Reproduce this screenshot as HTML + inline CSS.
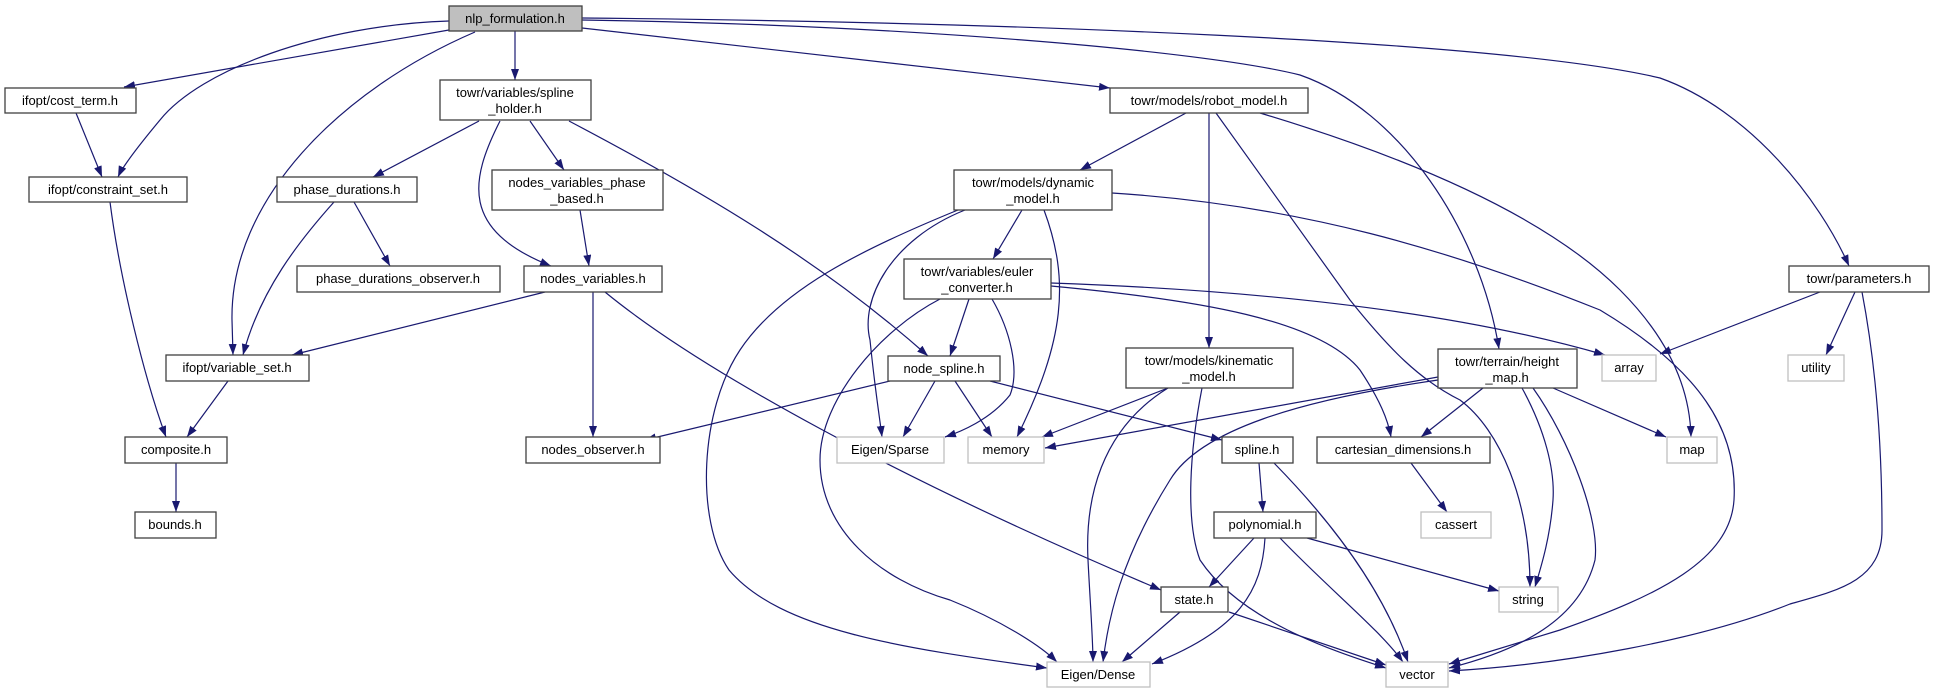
<!DOCTYPE html>
<html><head><meta charset="utf-8"><style>
html,body{margin:0;padding:0;background:#fff;}
svg{display:block;}
text{font-family:"Liberation Sans",sans-serif;font-size:13px;fill:#000;text-anchor:middle;}
.e{fill:none;stroke:#191970;stroke-width:1.2;marker-end:url(#a);}
.n{fill:#fff;stroke:#404040;stroke-width:1.3;}
.g{fill:#fff;stroke:#bfbfbf;stroke-width:1.3;}
</style></head><body>
<svg width="1934" height="693" viewBox="0 0 1934 693" xmlns="http://www.w3.org/2000/svg">
<defs><marker id="a" markerUnits="userSpaceOnUse" markerWidth="12" markerHeight="10" refX="11" refY="4" orient="auto"><path d="M0,0 L11,4 L0,8 z" fill="#191970"/></marker></defs>
<!-- edges -->
<path class="e" d="M449,30 L124,87"/>
<path class="e" d="M449,21 C320,25 200,70 160,120 C135,150 122,168 118,177"/>
<path class="e" d="M475,32 C340,90 230,200 232,320 L233,355"/>
<path class="e" d="M515,31 L515,80"/>
<path class="e" d="M582,28 L1110,88"/>
<path class="e" d="M582,20 C900,25 1200,50 1300,75 C1400,110 1480,230 1499,349"/>
<path class="e" d="M582,18 C1000,22 1500,40 1660,78 C1750,110 1820,200 1849,266"/>
<path class="e" d="M479,121 L373,177"/>
<path class="e" d="M530,121 L564,170"/>
<path class="e" d="M500,121 C470,180 460,230 551,266"/>
<path class="e" d="M569,121 C700,190 820,260 928,356"/>
<path class="e" d="M1186,113 L1080,170"/>
<path class="e" d="M1209,113 L1209,348"/>
<path class="e" d="M1216,113 L1350,300 C1390,350 1420,380 1460,400 C1500,430 1530,500 1530,587"/>
<path class="e" d="M1260,113 C1450,170 1560,230 1620,290 C1670,340 1690,390 1691,437"/>
<path class="e" d="M1820,292 L1660,354"/>
<path class="e" d="M1855,292 L1826,355"/>
<path class="e" d="M1862,292 C1875,360 1882,440 1882,530 C1882,580 1840,590 1790,604 C1700,640 1560,665 1449,671"/>
<path class="e" d="M354,202 L390,266"/>
<path class="e" d="M334,202 C300,240 260,290 243,355"/>
<path class="e" d="M545,292 L292,355"/>
<path class="e" d="M593,292 L593,437"/>
<path class="e" d="M605,292 C700,370 900,480 1161,590"/>
<path class="e" d="M580,210 L589,266"/>
<path class="e" d="M1022,210 L993,259"/>
<path class="e" d="M965,210 C890,240 860,300 870,340 C875,390 880,420 882,437"/>
<path class="e" d="M1044,210 C1070,280 1065,340 1017,437"/>
<path class="e" d="M958,210 C860,250 780,290 740,350 C700,410 695,520 729,570 C780,630 900,648 1047,668"/>
<path class="e" d="M1112,193 C1300,205 1450,250 1600,310 C1700,370 1738,430 1734,500 C1730,560 1660,595 1560,630 L1449,664"/>
<path class="e" d="M969,299 L950,356"/>
<path class="e" d="M992,299 C1010,330 1020,370 1010,395 C990,420 960,432 945,437"/>
<path class="e" d="M940,299 C880,330 820,400 820,460 C820,530 880,580 950,600 C1000,620 1040,645 1057,662"/>
<path class="e" d="M1051,283 C1250,290 1450,310 1605,355"/>
<path class="e" d="M1051,286 C1200,300 1320,320 1360,370 C1380,400 1388,420 1391,437"/>
<path class="e" d="M890,381 L645,440"/>
<path class="e" d="M935,381 L903,437"/>
<path class="e" d="M955,381 L992,437"/>
<path class="e" d="M990,381 L1222,440"/>
<path class="e" d="M1168,388 L1042,437"/>
<path class="e" d="M1438,377 L1045,448"/>
<path class="e" d="M1438,380 C1300,400 1200,430 1170,480 C1120,560 1108,620 1103,662"/>
<path class="e" d="M1168,388 C1100,430 1085,500 1088,560 C1090,600 1093,640 1093,662"/>
<path class="e" d="M1202,388 C1190,450 1185,520 1200,560 C1240,620 1330,650 1386,668"/>
<path class="e" d="M1483,388 L1421,437"/>
<path class="e" d="M1553,388 L1666,437"/>
<path class="e" d="M1522,388 C1545,430 1555,470 1553,500 C1550,540 1540,570 1535,587"/>
<path class="e" d="M1533,388 C1570,440 1600,520 1595,560 C1580,620 1520,650 1449,668"/>
<path class="e" d="M1411,463 L1447,512"/>
<path class="e" d="M1259,463 L1263,512"/>
<path class="e" d="M1274,463 C1320,510 1380,580 1408,662"/>
<path class="e" d="M1254,538 L1209,587"/>
<path class="e" d="M1265,538 C1262,590 1240,630 1152,664"/>
<path class="e" d="M1280,538 C1330,590 1380,630 1403,662"/>
<path class="e" d="M1307,538 L1499,591"/>
<path class="e" d="M1180,612 L1122,662"/>
<path class="e" d="M1229,612 L1386,665"/>
<path class="e" d="M176,463 L176,512"/>
<path class="e" d="M110,202 C120,280 145,380 166,437"/>
<path class="e" d="M228,381 L187,437"/>
<path class="e" d="M76,113 L102,177"/>
<!-- nodes -->
<rect x="449" y="6" width="133" height="25" fill="#bfbfbf" stroke="#404040" stroke-width="1.3"/><text x="515" y="23">nlp_formulation.h</text>
<rect class="n" x="5" y="88" width="131" height="25"/><text x="70" y="105">ifopt/cost_term.h</text>
<rect class="n" x="29" y="177" width="158" height="25"/><text x="108" y="194">ifopt/constraint_set.h</text>
<rect class="n" x="440" y="80" width="151" height="40"/><text x="515" y="97">towr/variables/spline</text><text x="515" y="113">_holder.h</text>
<rect class="n" x="1110" y="88" width="198" height="25"/><text x="1209" y="105">towr/models/robot_model.h</text>
<rect class="n" x="1789" y="266" width="140" height="26"/><text x="1859" y="283">towr/parameters.h</text>
<rect class="n" x="277" y="177" width="140" height="25"/><text x="347" y="194">phase_durations.h</text>
<rect class="n" x="492" y="170" width="171" height="40"/><text x="577" y="187">nodes_variables_phase</text><text x="577" y="203">_based.h</text>
<rect class="n" x="954" y="170" width="158" height="40"/><text x="1033" y="187">towr/models/dynamic</text><text x="1033" y="203">_model.h</text>
<rect class="n" x="297" y="266" width="203" height="26"/><text x="398" y="283">phase_durations_observer.h</text>
<rect class="n" x="524" y="266" width="138" height="26"/><text x="593" y="283">nodes_variables.h</text>
<rect class="n" x="904" y="259" width="147" height="40"/><text x="977" y="276">towr/variables/euler</text><text x="977" y="292">_converter.h</text>
<rect class="n" x="166" y="355" width="143" height="26"/><text x="237" y="372">ifopt/variable_set.h</text>
<rect class="n" x="888" y="356" width="112" height="25"/><text x="944" y="373">node_spline.h</text>
<rect class="n" x="1126" y="348" width="167" height="40"/><text x="1209" y="365">towr/models/kinematic</text><text x="1209" y="381">_model.h</text>
<rect class="n" x="1438" y="349" width="139" height="39"/><text x="1507" y="366">towr/terrain/height</text><text x="1507" y="382">_map.h</text>
<rect class="g" x="1602" y="355" width="54" height="26"/><text x="1629" y="372">array</text>
<rect class="g" x="1788" y="355" width="56" height="26"/><text x="1816" y="372">utility</text>
<rect class="n" x="125" y="437" width="102" height="26"/><text x="176" y="454">composite.h</text>
<rect class="n" x="526" y="437" width="134" height="26"/><text x="593" y="454">nodes_observer.h</text>
<rect class="g" x="837" y="437" width="107" height="26"/><text x="890" y="454">Eigen/Sparse</text>
<rect class="g" x="968" y="437" width="76" height="26"/><text x="1006" y="454">memory</text>
<rect class="n" x="1222" y="437" width="71" height="26"/><text x="1257" y="454">spline.h</text>
<rect class="n" x="1317" y="437" width="173" height="26"/><text x="1403" y="454">cartesian_dimensions.h</text>
<rect class="g" x="1667" y="437" width="50" height="26"/><text x="1692" y="454">map</text>
<rect class="n" x="135" y="512" width="81" height="26"/><text x="175" y="529">bounds.h</text>
<rect class="g" x="1421" y="512" width="70" height="26"/><text x="1456" y="529">cassert</text>
<rect class="n" x="1214" y="512" width="102" height="26"/><text x="1265" y="529">polynomial.h</text>
<rect class="n" x="1161" y="587" width="67" height="25"/><text x="1194" y="604">state.h</text>
<rect class="g" x="1499" y="587" width="59" height="25"/><text x="1528" y="604">string</text>
<rect class="g" x="1047" y="662" width="103" height="25"/><text x="1098" y="679">Eigen/Dense</text>
<rect class="g" x="1386" y="662" width="62" height="25"/><text x="1417" y="679">vector</text>
</svg>
</body></html>
